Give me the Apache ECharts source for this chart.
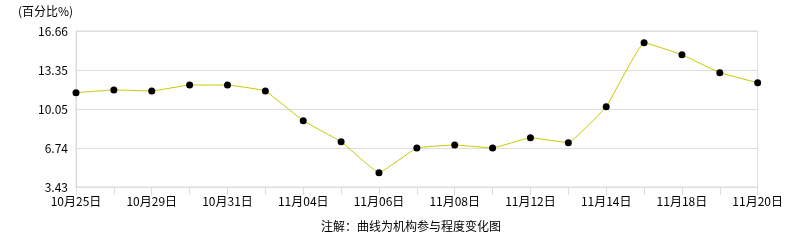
<!DOCTYPE html>
<html><head><meta charset="utf-8">
<script src="https://cdn.jsdelivr.net/npm/echarts@6/dist/echarts.min.js"></script>
<style>html,body{margin:0;padding:0;background:#fff}#c{width:786px;height:240px}</style>
</head><body><div id="c"></div>
<script>
var categories = ['10月25日','10月28日','10月29日','10月30日','10月31日','11月01日','11月04日','11月05日','11月06日','11月07日','11月08日','11月11日','11月12日','11月13日','11月14日','11月15日','11月18日','11月19日','11月20日'];
var values = [11.43, 11.66, 11.57, 12.08, 12.08, 11.57, 9.05, 7.27, 4.64, 6.74, 6.99, 6.74, 7.61, 7.19, 10.24, 15.67, 14.65, 13.12, 12.28];
var yTicks = [3.43, 6.74, 10.05, 13.35, 16.66];
var unitLabel = '(百分比%)';
var noteText = '注解：曲线为机构参与程度变化图';

var font = '"Noto Sans CJK SC", "Noto Sans", sans-serif';
var chart = echarts.init(document.getElementById('c'), null, {renderer: 'canvas'});
chart.setOption({
  animation: false,
  backgroundColor: '#fff',
  grid: {left: 76, right: 26, top: 31, bottom: 53, show: true, borderColor: '#dddddd', borderWidth: 1, backgroundColor: 'transparent'},
  graphic: [
    {type: 'text', left: 18, top: 5, style: {text: unitLabel, font: '12px ' + font, fill: '#000'}},
    {type: 'text', left: 321, top: 220, style: {text: noteText, font: '12px ' + font, fill: '#000'}}
  ],
  xAxis: {
    type: 'category', data: categories, boundaryGap: false,
    axisLine: {lineStyle: {color: '#dddddd'}},
    axisTick: {show: true, length: 8, interval: 0, lineStyle: {color: '#dddddd'}},
    axisLabel: {interval: 1, color: '#000', fontSize: 12, fontFamily: font, margin: 8, showMaxLabel: true},
    splitLine: {show: false}
  },
  yAxis: {
    type: 'value', min: yTicks[0], max: yTicks[yTicks.length - 1],
    axisLine: {show: true, lineStyle: {color: '#dddddd'}},
    axisTick: {show: false, customValues: yTicks},
    axisLabel: {customValues: yTicks, color: '#000', fontSize: 12, fontFamily: font, margin: 8,
      formatter: function (v) { return v.toFixed(2); }},
    splitLine: {show: true, lineStyle: {color: '#dddddd'}}
  },
  series: [{
    type: 'line', data: values, smooth: 0.08,
    symbol: 'circle', symbolSize: 7,
    itemStyle: {color: '#000'},
    lineStyle: {color: '#c8c800', width: 1}
  }]
});
</script></body></html>
